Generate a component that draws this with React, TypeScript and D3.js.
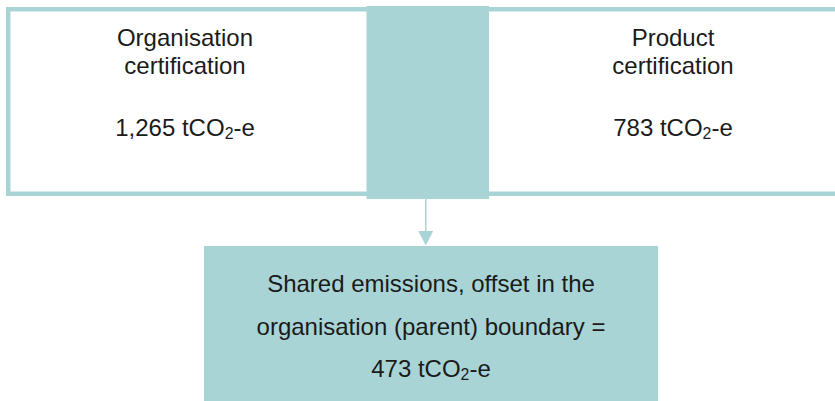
import React from "react";
import * as d3 from "d3";

// data
const boxTitles = [["Organisation", "certification"], ["Product", "certification"]];
const boxValues = ["1,265", "783"];
const sharedLines = ["Shared emissions, offset in the", "organisation (parent) boundary ="];
const sharedValue = "473";
const unit = { pre: "tCO", sub: "2", post: "-e" };

const W = 835;
const H = 401;
const teal = "#a9d4d5";
const ink = "#1b1b1b";
const font = "'Liberation Sans', Arial, sans-serif";
const fs = 24;

function Value({ x, y, num }: { x: number; y: number; num: string }) {
  return (
    <text x={x} y={y} textAnchor="middle" fontSize={fs} fill={ink} fontFamily={font}>
      {num} {unit.pre}
      <tspan fontSize={fs * 0.66} dy={3}>{unit.sub}</tspan>
      <tspan dy={-3}>{unit.post}</tspan>
    </text>
  );
}

export default function App() {
  // top boxes: left, shared strip, right (side borders tuck under the strip)
  const mid = { x0: 366.5, x1: 489 };
  const boxes = [
    { x0: 6, x1: mid.x0 + 5, cx: 185 },
    { x0: mid.x1 - 5, x1: 862, cx: 673 },
  ];
  const bw = 4.5;
  const top = 7;
  const bottom = 196;

  const cx = (mid.x0 + mid.x1) / 2 - 2;
  const head = d3.line()([
    [cx - 7.5, 231],
    [cx + 7.5, 231],
    [cx, 245.5],
  ]) + "Z";

  const shared = { x0: 204, x1: 658, y0: 246, y1: 410 };
  const sharedCx = (shared.x0 + shared.x1) / 2;

  return (
    <div style={{ position: "fixed", left: 0, top: 0 }}>
      <svg width={W} height={H} style={{ display: "block", background: "#fff" }}>
        {boxes.map((b, i) => (
          <g key={i}>
            <rect
              x={b.x0 + bw / 2}
              y={top + bw / 2}
              width={b.x1 - b.x0 - bw}
              height={bottom - top - bw}
              fill="#fff"
              stroke={teal}
              strokeWidth={bw}
            />
            {boxTitles[i].map((t, j) => (
              <text
                key={j}
                x={b.cx}
                y={46 + j * 28}
                textAnchor="middle"
                fontSize={fs}
                fill={ink}
                fontFamily={font}
              >
                {t}
              </text>
            ))}
            <Value x={b.cx} y={136} num={boxValues[i]} />
          </g>
        ))}
        <rect x={mid.x0} y={6} width={mid.x1 - mid.x0} height={193} fill={teal} />
        <line x1={cx} x2={cx} y1={199} y2={232} stroke={teal} strokeWidth={1.5} />
        <path d={head} fill={teal} />
        <rect
          x={shared.x0}
          y={shared.y0}
          width={shared.x1 - shared.x0}
          height={shared.y1 - shared.y0}
          fill={teal}
        />
        {sharedLines.map((t, j) => (
          <text
            key={j}
            x={sharedCx}
            y={292 + j * 42.5}
            textAnchor="middle"
            fontSize={fs}
            fill={ink}
            fontFamily={font}
          >
            {t}
          </text>
        ))}
        <Value x={sharedCx} y={377} num={sharedValue} />
      </svg>
    </div>
  );
}
